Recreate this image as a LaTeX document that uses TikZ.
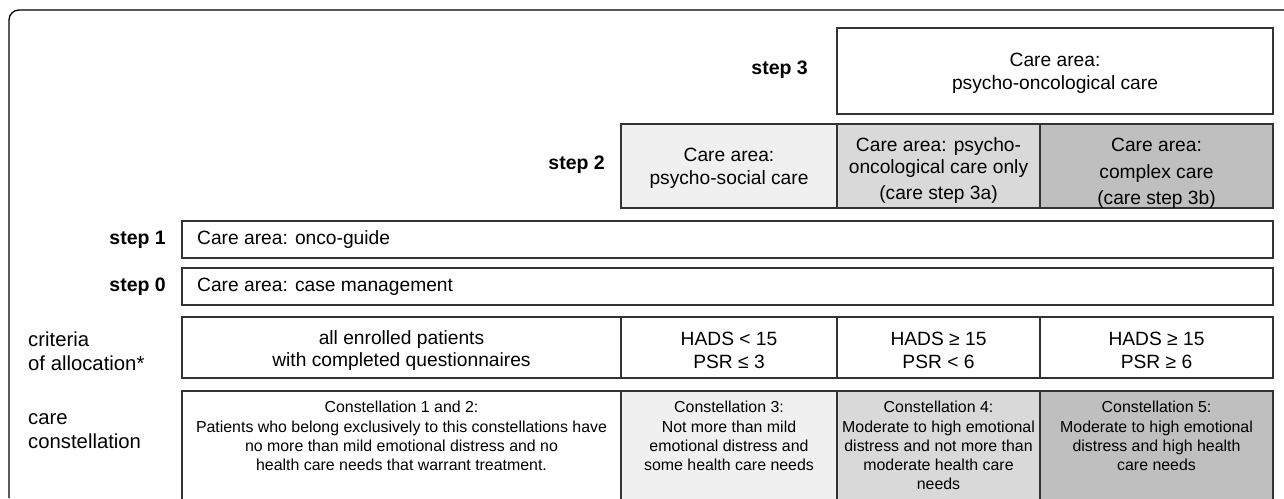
\documentclass[tikz,border=0pt]{standalone}
\usepackage{fontspec}
\setmainfont{Liberation Sans}
\definecolor{boxline}{HTML}{333333}
\definecolor{gA}{HTML}{F0F0F0}
\definecolor{gB}{HTML}{D9D9D9}
\definecolor{gC}{HTML}{BFBFBF}
\begin{document}
\begin{tikzpicture}[x=1pt,y=-1pt,
  cell/.style={draw=boxline,line width=1.8pt,rectangle,inner sep=0pt,outer sep=0pt,anchor=north west},
  txt/.style={inner sep=0pt,align=center,font=\fontsize{19.2}{22.5}\selectfont},
  steplabel/.style={anchor=east,inner sep=0pt,font=\fontsize{19.5}{22}\selectfont\bfseries},
  rowlabel/.style={anchor=west,inner sep=0pt,align=left,font=\fontsize{20.3}{23.5}\selectfont},
  consttxt/.style={anchor=north,inner sep=0pt,align=center,font=\fontsize{15.9}{19}\selectfont}]
\useasboundingbox (0,0) rectangle (1284,498);
\fill[white] (0,0) rectangle (1284,498);
% outer frame
\draw[line width=1.3pt,rounded corners=10pt] (9,498) -- (9,10) -- (1284,10);
% step 3
\node[cell,minimum width=436pt,minimum height=86pt] (s3) at (837,28) {};
\node[txt] (s3t) at (1055,73.5) {Care area:\\psycho-oncological care};
\node[steplabel] (l3) at (808,70) {step 3};
% step 2
\node[cell,fill=gA,minimum width=216pt,minimum height=84pt] (s2a) at (621,124) {};
\node[cell,fill=gB,minimum width=203pt,minimum height=84pt] (s2b) at (837,124) {};
\node[cell,fill=gC,minimum width=233pt,minimum height=84pt] (s2c) at (1040,124) {};
\node[txt] (s2at) at (729,168.5) {Care area:\\psycho-social care};
\node[txt] (s2bt) at (938.5,170.5) {Care area: psycho-\\oncological care only\\[3.5pt](care step 3a)};
\node[txt] (s2ct) at (1156.5,173.5) {Care area:\\[4.5pt]complex care\\[3.5pt](care step 3b)};
\node[steplabel] (l2) at (605,165) {step 2};
% step 1 / 0
\node[cell,minimum width=1091pt,minimum height=37pt] (s1) at (182,221) {};
\node[txt,anchor=west] (t1) at (197,240) {Care area: onco-guide};
\node[steplabel] (l1) at (166,240) {step 1};
\node[cell,minimum width=1091pt,minimum height=37pt] (s0) at (182,268) {};
\node[txt,anchor=west] (t0) at (197,287) {Care area: case management};
\node[steplabel] (l0) at (166,287) {step 0};
% criteria
\node[cell,minimum width=439pt,minimum height=61pt] (c1) at (182,317) {};
\node[cell,minimum width=216pt,minimum height=61pt] (c2) at (621,317) {};
\node[cell,minimum width=203pt,minimum height=61pt] (c3) at (837,317) {};
\node[cell,minimum width=233pt,minimum height=61pt] (c4) at (1040,317) {};
\node[txt] (c1t) at (401.5,350.5) {all enrolled patients\\with completed questionnaires};
\node[txt] (c2t) at (729,350.5) {HADS < 15\\PSR ≤ 3};
\node[txt] (c3t) at (938.5,350.5) {HADS ≥ 15\\PSR < 6};
\node[txt] (c4t) at (1156.5,350.5) {HADS ≥ 15\\PSR ≥ 6};
\node[rowlabel] (lc) at (28,351) {criteria\\of allocation*};
% constellation
\node[cell,minimum width=439pt,minimum height=120pt] (k1) at (182,391) {};
\node[cell,fill=gA,minimum width=216pt,minimum height=120pt] (k2) at (621,391) {};
\node[cell,fill=gB,minimum width=203pt,minimum height=120pt] (k3) at (837,391) {};
\node[cell,fill=gC,minimum width=233pt,minimum height=120pt] (k4) at (1040,391) {};
\node[consttxt] (k1t) at (401.5,400.5) {Constellation 1 and 2:\\[1.5pt]Patients who belong exclusively to this constellations have\\no more than mild emotional distress and no\\health care needs that warrant treatment.};
\node[consttxt] (k2t) at (729,400.5) {Constellation 3:\\[1.5pt]Not more than mild\\emotional distress and\\some health care needs};
\node[consttxt] (k3t) at (938.5,400.5) {Constellation 4:\\[1.5pt]Moderate to high emotional\\distress and not more than\\moderate health care\\needs};
\node[consttxt] (k4t) at (1156.5,400.5) {Constellation 5:\\[1.5pt]Moderate to high emotional\\distress and high health\\care needs};
\node[rowlabel] (lk) at (28,431) {care\\constellation};
\end{tikzpicture}
\end{document}
